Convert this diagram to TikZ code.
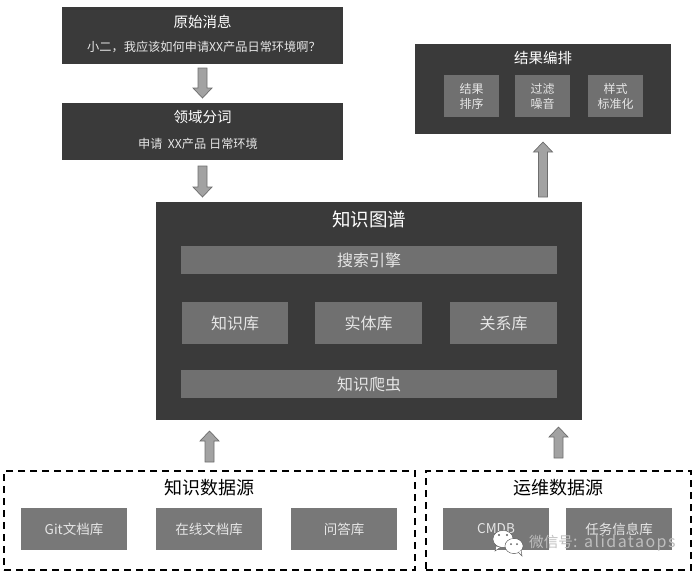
\documentclass[tikz,border=0pt]{standalone}
\usepackage{fontspec}
\setmainfont{Noto Sans CJK SC}
\newfontfamily\marklatin[LetterSpace=9]{Noto Sans CJK SC}
\usetikzlibrary{calc}
\definecolor{panel}{HTML}{3A3A3A}
\definecolor{innerdark}{HTML}{707070}
\definecolor{innerlight}{HTML}{787878}
\definecolor{inktext}{HTML}{E6E6E6}
\definecolor{arrowfill}{HTML}{A2A2A2}
\definecolor{arrowline}{HTML}{6E6E6E}
\definecolor{markgray}{HTML}{5F5F5F}
\definecolor{marklight}{HTML}{BEBEBE}
\tikzset{
  boxbase/.style={inner sep=0pt,outer sep=0pt,align=center,text=inktext},
  panelbox/.style={boxbase,fill=panel},
  darkinner/.style={boxbase,fill=innerdark},
  lightinner/.style={boxbase,fill=innerlight},
  dashbox/.style={boxbase,draw=black,line width=1.2pt,dash pattern=on 7pt off 5pt},
  paneltitle/.style={text=white,inner sep=0pt,font=\fontsize{14.5}{17}\selectfont},
  panelsub/.style={text=inktext,inner sep=0pt,font=\fontsize{12.2}{14}\selectfont},
  blocktip/.style={fill=arrowfill,draw=arrowline,line width=0.7pt,line join=miter},
  marktext/.style={inner sep=0pt,anchor=west,font=\fontsize{14.6}{17}\selectfont},
}
% name, x1, y1, x2, y2, style, font size, text
\newcommand{\pxbox}[8]{%
  \node[#6,minimum width={(#4-#2)*1pt},minimum height={(#5-#3)*1pt},
        font=\fontsize{#7}{15}\selectfont]
    (#1) at ({(#2+#4)/2},{(#3+#5)/2}) {#8};}
% from, to, start gap, end gap, direction (+1 down, -1 up)
\newcommand{\blockarrow}[5]{%
  \draw[blocktip]
    ($(#1)+(-4.5,#5*#3)$) --
    ($(#2)+(-4.5,-#5*#4-#5*10)$) --
    ($(#2)+(-9.5,-#5*#4-#5*10)$) --
    ($(#2)+(0,-#5*#4)$) --
    ($(#2)+(9.5,-#5*#4-#5*10)$) --
    ($(#2)+(4.5,-#5*#4-#5*10)$) --
    ($(#1)+(4.5,#5*#3)$) -- cycle;}
\newcommand{\marktxt}{微信号\fontsize{16}{17}\selectfont\marklatin: alidataops}
\begin{document}
\begin{tikzpicture}[x=1pt,y=-1pt]
\useasboundingbox (0,0) rectangle (698,576);
% top left
\pxbox{orig}{62}{7}{343}{64}{panelbox}{12}{}
\node[paneltitle] (origt) at (202.5,22) {原始消息};
\node[panelsub] (origs) at (204,47) {小二，我应该如何申请XX产品日常环境啊？};
\pxbox{seg}{62}{103}{343}{160}{panelbox}{12}{}
\node[paneltitle] (segt) at (202.5,117) {领域分词};
\node[panelsub] (segs) at (198,143.5) {申请 \ XX产品 日常环境};
% result panel
\pxbox{res}{415}{44}{671}{134}{panelbox}{12}{}
\node[paneltitle] (rest) at (543,58) {结果编排};
\pxbox{r1}{444}{75}{499}{117}{darkinner}{12}{结果\\排序}
\pxbox{r2}{515}{75}{570}{117}{darkinner}{12}{过滤\\噪音}
\pxbox{r3}{588}{75}{643}{117}{darkinner}{12}{样式\\标准化}
% knowledge graph
\pxbox{kg}{156}{202}{582}{420}{panelbox}{12}{}
\node[paneltitle,font=\fontsize{18.5}{22}\selectfont] (kgt) at (369,219) {知识图谱};
\pxbox{search}{181}{246}{557}{274}{darkinner}{16}{\raisebox{-1pt}{搜索引擎}}
\pxbox{k1}{182}{302}{288}{344}{darkinner}{16}{\raisebox{-1pt}{知识库}}
\pxbox{k2}{315}{302}{422}{344}{darkinner}{16}{\raisebox{-1pt}{实体库}}
\pxbox{k3}{450}{302}{557}{344}{darkinner}{16}{\raisebox{-1pt}{关系库}}
\pxbox{crawl}{181}{370}{557}{398}{darkinner}{16}{\raisebox{-1pt}{知识爬虫}}
% sources
\pxbox{src}{4}{471}{415}{570}{dashbox}{12}{}
\node[text=black,inner sep=0pt,font=\fontsize{18}{21}\selectfont] (srct) at (209,488) {知识数据源};
\pxbox{s1}{21}{508}{127}{550}{lightinner}{13.5}{Git文档库}
\pxbox{s2}{156}{508}{262}{550}{lightinner}{13.5}{在线文档库}
\pxbox{s3}{291}{508}{397}{550}{lightinner}{13.5}{问答库}
\pxbox{ops}{426}{471}{691}{570}{dashbox}{12}{}
\node[text=black,inner sep=0pt,font=\fontsize{18}{21}\selectfont] (opst) at (558,488) {运维数据源};
\pxbox{o1}{443}{508}{549}{550}{lightinner}{13.5}{CMDB}
\pxbox{o2}{566}{508}{672}{550}{lightinner}{13.5}{任务信息库}
% arrows
\blockarrow{orig.south}{seg.north}{4}{5}{1}
\blockarrow{seg.south}{seg.south |- kg.north}{6}{5}{1}
\blockarrow{res.south |- kg.north}{res.south}{5}{8}{-1}
\blockarrow{src.north}{src.north |- kg.south}{9}{11}{-1}
\blockarrow{ops.north}{ops.north |- kg.south}{13}{7}{-1}
% watermark
\draw[markgray,fill=white,line width=0.5pt] (503,539) ellipse (10 and 8.5);
\fill[white,draw=markgray,line width=0.5pt] (496,546) -- (495,551) -- (501,547) -- cycle;
\fill[white] (503,539) ellipse (9.5 and 8);
\draw[markgray,fill=white,line width=0.6pt] (514,546) ellipse (9 and 7.5);
\fill[white,draw=markgray,line width=0.5pt] (518,552) -- (522,556) -- (521,550) -- cycle;
\fill[white] (514,546) ellipse (8.5 and 7);
\fill[markgray] (499,535) circle (1.2) (507,535) circle (1.2) (511,544) circle (1) (517,544) circle (1);
\node[marktext,text=marklight] (mark) at (529,543) {\marktxt};
\end{tikzpicture}
\end{document}
